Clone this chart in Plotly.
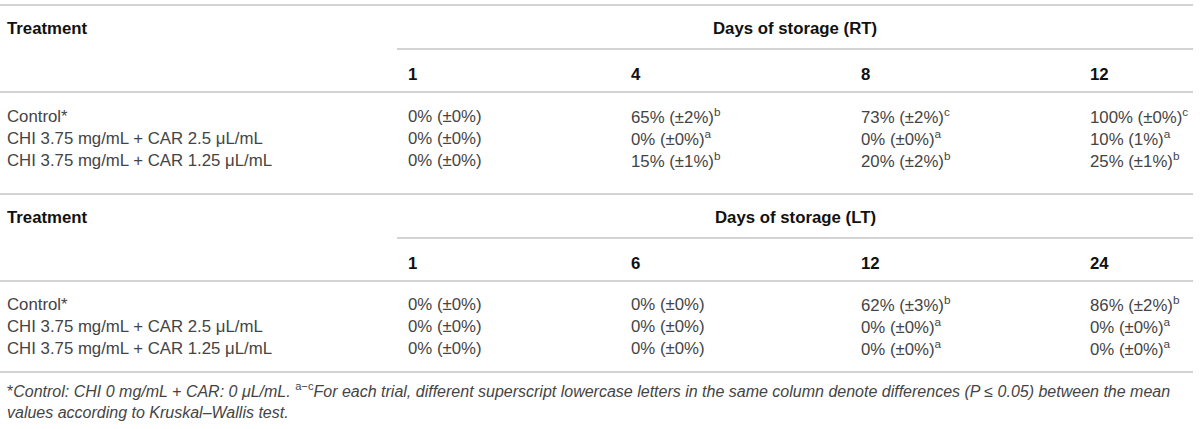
import plotly.graph_objects as go

# table content
treatments = ["Control*", "CHI 3.75 mg/mL + CAR 2.5 μL/mL", "CHI 3.75 mg/mL + CAR 1.25 μL/mL"]

days_rt = ["1", "4", "8", "12"]
cells_rt = [["0% (±0%)", "65% (±2%)", "73% (±2%)", "100% (±0%)"],
            ["0% (±0%)", "0% (±0%)", "0% (±0%)", "10% (1%)"],
            ["0% (±0%)", "15% (±1%)", "20% (±2%)", "25% (±1%)"]]
letters_rt = [["", "b", "c", "c"],
              ["", "a", "a", "a"],
              ["", "b", "b", "b"]]

days_lt = ["1", "6", "12", "24"]
cells_lt = [["0% (±0%)", "0% (±0%)", "62% (±3%)", "86% (±2%)"],
            ["0% (±0%)", "0% (±0%)", "0% (±0%)", "0% (±0%)"],
            ["0% (±0%)", "0% (±0%)", "0% (±0%)", "0% (±0%)"]]
letters_lt = [["", "", "b", "b"],
              ["", "", "a", "a"],
              ["", "", "a", "a"]]

footnote = ("*<i>Control: CHI 0 mg/mL + CAR: 0 μL/mL. </i><sup>a−c</sup><i>For each trial, different superscript "
            "lowercase letters in the same column denote differences (P ≤ 0.05) between the mean<br>"
            "values according to Kruskal–Wallis test.</i>")

W, H = 1200, 429
col_x = [5, 406, 629, 859, 1088]
line_col = "#c4c4c4"
txt_col = "#444444"
head_col = "#111111"
FONT = "Liberation Sans"
FS = 16.8

fig = go.Figure()
annos = []
shapes = []


def hline(y, x0=0, x1=1193):
    shapes.append(dict(type="line", xref="x", yref="y", x0=x0, x1=x1, y0=y, y1=y,
                       line=dict(color=line_col, width=1.5)))


def txt(x, y, s, bold=False, anchor="left", size=FS):
    annos.append(dict(x=x, y=y, xref="x", yref="y", text=("<b>%s</b>" % s) if bold else s,
                      showarrow=False, xanchor=anchor, yanchor="middle",
                      font=dict(family=FONT, size=size, color=head_col if bold else txt_col)))


def block(top, title, days, cells, letters, row_y, bottom):
    hline(top)
    txt(col_x[0], top + 23, "Treatment", bold=True)
    txt((397 + 1193) / 2, top + 23, title, bold=True, anchor="center")
    hline(top + 44, x0=397)
    for j, d in enumerate(days):
        txt(col_x[j + 1], top + 69, d, bold=True)
    hline(top + 87)
    for i, t in enumerate(treatments):
        y = top + row_y[i]
        txt(col_x[0], y, t)
        for j, c in enumerate(cells[i]):
            s = c + ("<sup>%s</sup>" % letters[i][j] if letters[i][j] else "")
            txt(col_x[j + 1], y, s)
    return top + bottom


b1 = block(5, "Days of storage (RT)", days_rt, cells_rt, letters_rt, [111, 133, 155], 189)
b2 = block(b1, "Days of storage (LT)", days_lt, cells_lt, letters_lt, [110, 132, 154], 178)
hline(b2)

annos.append(dict(x=col_x[0], y=b2 + 28, xref="x", yref="y", text=footnote, showarrow=False,
                  xanchor="left", yanchor="middle", align="left",
                  font=dict(family=FONT, size=16, color=txt_col)))

fig.update_layout(
    width=W, height=H,
    margin=dict(l=0, r=0, t=0, b=0),
    paper_bgcolor="white", plot_bgcolor="white",
    xaxis=dict(range=[0, W], visible=False, fixedrange=True),
    yaxis=dict(range=[H, 0], visible=False, fixedrange=True),
    shapes=shapes, annotations=annos, showlegend=False,
)

# drop the default page margin so the figure sits at the window's corner
fig.write_html("out.html", config={"displayModeBar": False},
               post_script="document.body.style.margin='0';")
